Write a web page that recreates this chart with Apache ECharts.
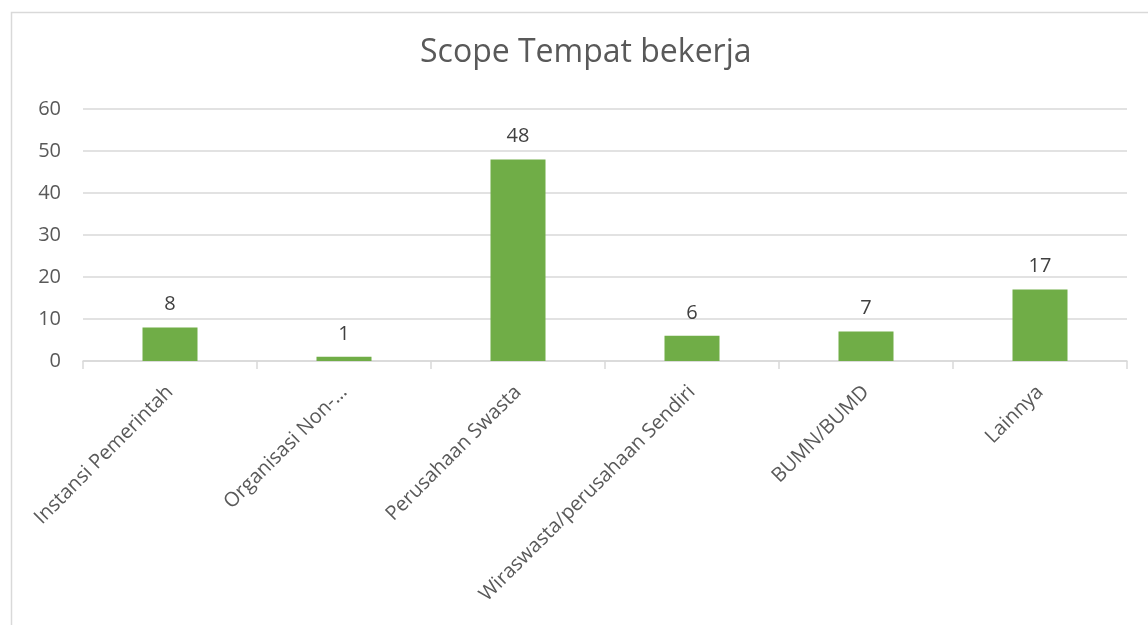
<!DOCTYPE html>
<html>
<head>
<meta charset="utf-8">
<script src="https://cdn.jsdelivr.net/npm/echarts@6/dist/echarts.min.js"></script>
<style>html,body{margin:0;padding:0;background:#fff;}#c{width:1148px;height:625px;}</style>
</head>
<body>
<div id="c"></div>
<script>
const categories = ["Instansi Pemerintah", "Organisasi Non-…", "Perusahaan Swasta", "Wiraswasta/perusahaan Sendiri", "BUMN/BUMD", "Lainnya"];
const values = [8, 1, 48, 6, 7, 17];
const yTicks = [0, 10, 20, 30, 40, 50, 60];

const chart = echarts.init(document.getElementById('c'));
chart.setOption({
  animation: false,
  graphic: [{
    type: 'rect', left: 9, top: 10,
    shape: { width: 1160, height: 640 },
    style: { fill: 'none', stroke: '#d9d9d9', lineWidth: 1.5 }
  }],
  title: {
    text: 'Scope Tempat bekerja', left: 415, top: 32,
    textStyle: { fontFamily: 'Open Sans', fontSize: 32, fontWeight: 'normal', color: '#595959' }
  },
  grid: { left: 83, right: 21, top: 109, bottom: 264, containLabel: false },
  xAxis: {
    type: 'category', data: categories,
    axisLine: { lineStyle: { color: '#d9d9d9', width: 1.5 } },
    axisTick: { show: true, length: 8, lineStyle: { color: '#d9d9d9', width: 1.5 } },
    axisLabel: { interval: 0, rotate: 45, margin: 28, fontFamily: 'Open Sans', fontSize: 20, color: '#595959' }
  },
  yAxis: {
    type: 'value', min: yTicks[0], max: yTicks[yTicks.length - 1], interval: 10,
    axisLine: { show: false }, axisTick: { show: false },
    splitLine: { lineStyle: { color: '#d9d9d9', width: 1.5 } },
    axisLabel: { margin: 22, fontFamily: 'Open Sans', fontSize: 20, color: '#595959' }
  },
  series: [{
    type: 'bar', data: values, barWidth: 55,
    itemStyle: { color: '#70ad47' },
    label: { show: true, position: 'top', distance: 13, fontFamily: 'Open Sans', fontSize: 20, color: '#404040' }
  }]
});
</script>
</body>
</html>
